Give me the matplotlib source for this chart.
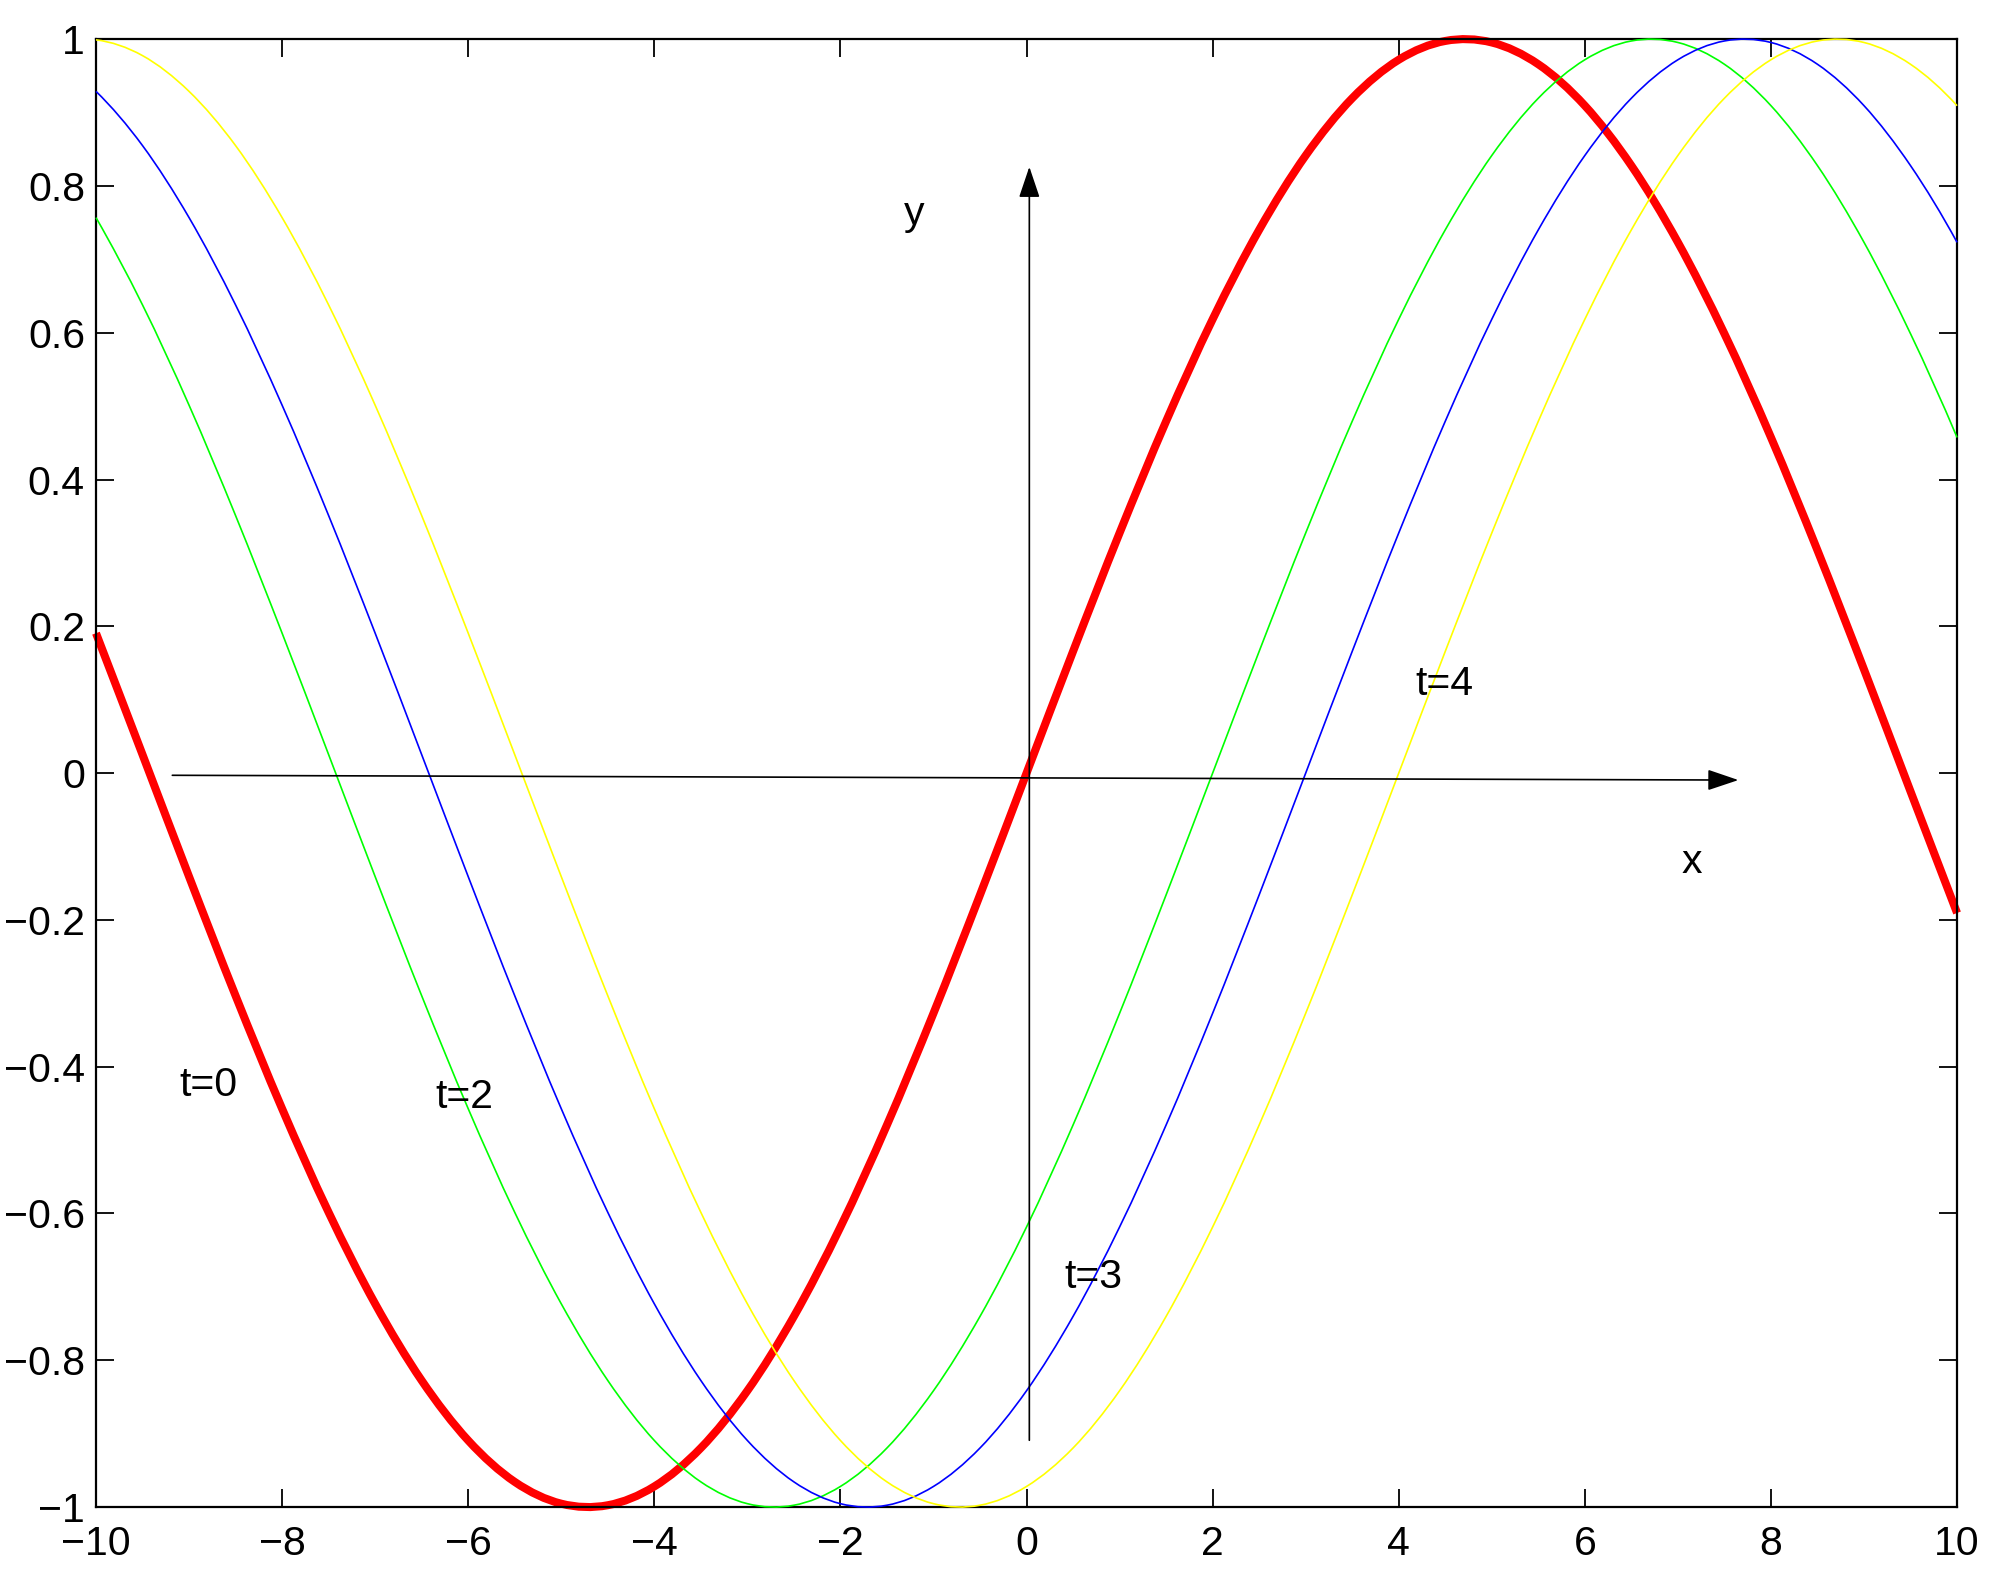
import matplotlib
matplotlib.use('Agg')
from matplotlib import pyplot as plt
from matplotlib.path import Path
from matplotlib.patches import PathPatch

# x grid and the four snapshots of the wave
x = [-10 + 0.5 * i for i in range(41)]

y_t0 = [0.1906, 0.0251, -0.1411, -0.3034, -0.4573, -0.5985, -0.7231, -0.8276, -0.9093, -0.9657,
        -0.9954, -0.9975, -0.9719, -0.9195, -0.8415, -0.7402, -0.6184, -0.4794, -0.3272, -0.1659,
        0.0, 0.1659, 0.3272, 0.4794, 0.6184, 0.7402, 0.8415, 0.9195, 0.9719, 0.9975,
        0.9954, 0.9657, 0.9093, 0.8276, 0.7231, 0.5985, 0.4573, 0.3034, 0.1411, -0.0251, -0.1906]

y_t2 = [0.7568, 0.6378, 0.5012, 0.3508, 0.1906, 0.0251, -0.1411, -0.3034, -0.4573, -0.5985,
        -0.7231, -0.8276, -0.9093, -0.9657, -0.9954, -0.9975, -0.9719, -0.9195, -0.8415, -0.7402,
        -0.6184, -0.4794, -0.3272, -0.1659, 0.0, 0.1659, 0.3272, 0.4794, 0.6184, 0.7402,
        0.8415, 0.9195, 0.9719, 0.9975, 0.9954, 0.9657, 0.9093, 0.8276, 0.7231, 0.5985, 0.4573]

y_t3 = [0.9288, 0.8549, 0.7568, 0.6378, 0.5012, 0.3508, 0.1906, 0.0251, -0.1411, -0.3034,
        -0.4573, -0.5985, -0.7231, -0.8276, -0.9093, -0.9657, -0.9954, -0.9975, -0.9719, -0.9195,
        -0.8415, -0.7402, -0.6184, -0.4794, -0.3272, -0.1659, 0.0, 0.1659, 0.3272, 0.4794,
        0.6184, 0.7402, 0.8415, 0.9195, 0.9719, 0.9975, 0.9954, 0.9657, 0.9093, 0.8276, 0.7231]

y_t4 = [0.9990, 0.9775, 0.9288, 0.8549, 0.7568, 0.6378, 0.5012, 0.3508, 0.1906, 0.0251,
        -0.1411, -0.3034, -0.4573, -0.5985, -0.7231, -0.8276, -0.9093, -0.9657, -0.9954, -0.9975,
        -0.9719, -0.9195, -0.8415, -0.7402, -0.6184, -0.4794, -0.3272, -0.1659, 0.0, 0.1659,
        0.3272, 0.4794, 0.6184, 0.7402, 0.8415, 0.9195, 0.9719, 0.9975, 0.9954, 0.9657, 0.9093]

xticks = [-10, -8, -6, -4, -2, 0, 2, 4, 6, 8, 10]
xtick_labels = ['\u221210', '\u22128', '\u22126', '\u22124', '\u22122', '0', '2', '4', '6', '8', '10']
yticks = [-1, -0.8, -0.6, -0.4, -0.2, 0, 0.2, 0.4, 0.6, 0.8, 1]
ytick_labels = ['\u22121', '\u22120.8', '\u22120.6', '\u22120.4', '\u22120.2', '0',
                '0.2', '0.4', '0.6', '0.8', '1']

labels = ['t=0', 't=2', 't=3', 't=4', 'x', 'y']
label_x = [-8.79, -6.04, 0.72, 4.49, 7.15, -1.21]
label_y = [-0.425, -0.441, -0.687, 0.122, -0.121, 0.762]


def smooth_path(xs, ys):
    # Catmull-Rom style bezier through the sampled points, so the
    # renderer draws a smooth curve instead of a polyline
    pts = list(zip(xs, ys))
    n = len(pts)
    first = tuple(3 * pts[0][j] - 3 * pts[1][j] + pts[2][j] for j in range(2))
    last = tuple(3 * pts[-1][j] - 3 * pts[-2][j] + pts[-3][j] for j in range(2))
    ext = [first] + pts + [last]
    verts = [pts[0]]
    codes = [Path.MOVETO]
    for i in range(1, n):
        p0, p1, p2, p3 = ext[i - 1], ext[i], ext[i + 1], ext[i + 2]
        c1 = (p1[0] + (p2[0] - p0[0]) / 6, p1[1] + (p2[1] - p0[1]) / 6)
        c2 = (p2[0] - (p3[0] - p1[0]) / 6, p2[1] - (p3[1] - p1[1]) / 6)
        verts += [c1, c2, p2]
        codes += [Path.CURVE4] * 3
    return Path(verts, codes)


def draw_curve(ax, ys, color, lw, z):
    patch = PathPatch(smooth_path(x, ys), fill=False, edgecolor=color, lw=lw,
                      clip_on=False, zorder=z, capstyle='butt')
    ax.add_patch(patch)


def main():
    plt.rcParams['font.family'] = ['Liberation Sans', 'DejaVu Sans']

    fig = plt.figure(figsize=(19.96, 15.71), dpi=100)
    ax = fig.add_axes([0.0481, 0.0407, 0.9324, 0.9344])

    draw_curve(ax, y_t0, (1, 0, 0), 5.8, 2)
    draw_curve(ax, y_t2, (0, 1, 0), 1.2, 3)
    draw_curve(ax, y_t3, (0, 0, 1), 1.2, 3)
    draw_curve(ax, y_t4, (1, 1, 0), 1.2, 3)

    # hand-drawn coordinate arrows
    arrow = dict(arrowstyle='-|>,head_length=0.8,head_width=0.27', mutation_scale=24,
                 lw=1.2, color='k', shrinkA=0, shrinkB=0)
    ax.annotate('', xy=(7.65, -0.0095), xytext=(-9.18, -0.003), arrowprops=arrow)
    ax.annotate('', xy=(0.03, 0.826), xytext=(0.03, -0.909), arrowprops=arrow)

    for s, tx, ty in zip(labels, label_x, label_y):
        ax.text(tx, ty, s, fontsize=29.5, ha='center', va='center')

    ax.set_xlim(-10, 10)
    ax.set_ylim(-1, 1)
    ax.set_xticks(xticks)
    ax.set_xticklabels(xtick_labels)
    ax.set_yticks(yticks)
    ax.set_yticklabels(ytick_labels)
    ax.tick_params(direction='in', length=13, width=1.3, labelsize=29.5,
                   top=True, right=True)
    ax.tick_params(axis='x', pad=13)
    ax.tick_params(axis='y', pad=8)
    for sp in ax.spines.values():
        sp.set_linewidth(1.6)

    fig.savefig('out.png', dpi=100)
    plt.close(fig)


if __name__ == '__main__':
    main()
